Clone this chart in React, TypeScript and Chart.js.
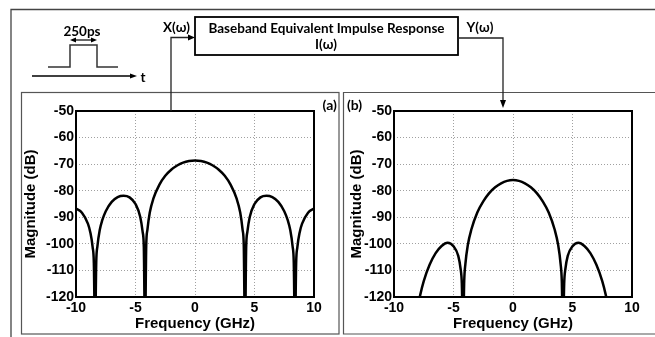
import React, { useEffect, useRef } from 'react';
import { Chart, registerables } from 'chart.js';

Chart.register(...registerables);

// Panel (a): input pulse spectrum X(ω)
const freqA = [-10, -9.5, -9, -8.8, -8.6, -8.5, -8.4, -8.3, -8.2, -8, -7.8, -7.5, -7, -6.5, -6, -5.5, -5, -4.6, -4.4, -4.3, -4.2, -4.1, -4, -3.8, -3.5, -3, -2.5, -2, -1.5, -1, -0.5, 0,
  0.5, 1, 1.5, 2, 2.5, 3, 3.5, 3.8, 4, 4.1, 4.2, 4.3, 4.4, 4.6, 5, 5.5, 6, 6.5, 7, 7.5, 7.8, 8, 8.2, 8.3, 8.4, 8.5, 8.6, 8.8, 9, 9.5, 10];
const magA = [-86.7, -88.3, -92.4, -95.6, -101.3, -107.2, -135, -107, -100.9, -94.7, -91.2, -87.7, -84.2, -82.4, -81.9, -82.5, -85.0, -89.9, -95.5, -101.3, -135, -100.9, -94.7, -88.2, -83.0, -77.8, -74.4, -72.1, -70.5, -69.4, -68.8, -68.6,
  -68.8, -69.4, -70.5, -72.1, -74.4, -77.8, -83.0, -88.2, -94.7, -100.9, -135, -101.3, -95.5, -89.9, -85.0, -82.5, -81.9, -82.4, -84.2, -87.7, -91.2, -94.7, -100.9, -107, -135, -107.2, -101.3, -95.6, -92.4, -88.3, -86.7];

// Panel (b): output spectrum Y(ω)
const freqB = [-8.5, -8, -7.8, -7.5, -7, -6.5, -6, -5.5, -5, -4.6, -4.4, -4.3, -4.2, -4.1, -4, -3.8, -3.5, -3, -2.5, -2, -1.5, -1, -0.5, 0,
  0.5, 1, 1.5, 2, 2.5, 3, 3.5, 3.8, 4, 4.1, 4.2, 4.3, 4.4, 4.6, 5, 5.5, 6, 6.5, 7, 7.5, 7.8, 8, 8.5];
const magB = [-131, -124, -119.3, -114, -107.8, -103.5, -100.8, -99.6, -100.9, -104.5, -109.5, -115, -135, -114, -107.5, -100.5, -94.6, -88.2, -84.0, -80.9, -78.7, -77.2, -76.3, -76,
  -76.3, -77.2, -78.7, -80.9, -84.0, -88.2, -94.6, -100.5, -107.5, -114, -135, -115, -109.5, -104.5, -100.9, -99.6, -100.8, -103.5, -107.8, -114, -119.3, -124, -131];

const xTickValues = [-10, -5, 0, 5, 10];
const yTickValues = [-50, -60, -70, -80, -90, -100, -110, -120];
const xTitleText = 'Frequency (GHz)';
const yTitleText = 'Magnitude (dB)';

const FONT = "'Liberation Sans', Arial, Helvetica, sans-serif";
const LABEL_FONT = "Lato, 'Open Sans', sans-serif";

const framePlugin = {
  id: 'plotFrame',
  afterDraw(chart: any) {
    const { ctx, chartArea } = chart;
    const { left, top, right, bottom } = chartArea;
    ctx.save();
    ctx.strokeStyle = '#000';
    ctx.lineWidth = 2;
    ctx.strokeRect(left, top, right - left, bottom - top);
    ctx.restore();
  },
};

function makeConfig(freq: number[], mag: number[], rightPad: number, yTitlePad: number): any {
  return {
    type: 'line',
    data: {
      datasets: [
        {
          data: freq.map((f, i) => ({ x: f, y: mag[i] })),
          borderColor: '#000',
          borderWidth: 2.5,
          pointRadius: 0,
          fill: false,
          cubicInterpolationMode: 'monotone',
        },
      ],
    },
    plugins: [framePlugin],
    options: {
      responsive: false,
      animation: false,
      devicePixelRatio: 1,
      layout: { padding: { top: 19, right: rightPad, left: 0, bottom: 0 } },
      plugins: { legend: { display: false }, tooltip: { enabled: false } },
      scales: {
        x: {
          type: 'linear',
          min: -10,
          max: 10,
          afterBuildTicks: (s: any) => {
            s.ticks = xTickValues.map((v) => ({ value: v }));
          },
          afterFit: (s: any) => {
            s.height = 37;
          },
          grid: { color: '#a0a0a0', lineWidth: 1, drawTicks: false },
          border: { display: false, dash: [1, 2] },
          ticks: { color: '#000', padding: 3, font: { family: FONT, size: 14, weight: 'bold' }, maxRotation: 0 },
          title: {
            display: true,
            text: xTitleText,
            color: '#000',
            font: { family: FONT, size: 15, weight: 'bold' },
            padding: { top: 0, bottom: 1 },
          },
        },
        y: {
          type: 'linear',
          min: -120,
          max: -50,
          afterBuildTicks: (s: any) => {
            s.ticks = yTickValues.map((v) => ({ value: v }));
          },
          afterFit: (s: any) => {
            s.width = 54;
          },
          grid: { color: '#a0a0a0', lineWidth: 1, drawTicks: false },
          border: { display: false, dash: [1, 2] },
          ticks: { color: '#000', padding: 2, font: { family: FONT, size: 14, weight: 'bold' } },
          title: {
            display: true,
            text: yTitleText,
            color: '#000',
            font: { family: FONT, size: 15, weight: 'bold' },
            padding: { top: yTitlePad, bottom: 0 },
          },
        },
      },
    },
  };
}

function SpectrumChart(props: { left: number; top: number; width: number; height: number; freq: number[]; mag: number[]; rightPad: number; yTitlePad: number }) {
  const ref = useRef<HTMLCanvasElement | null>(null);
  useEffect(() => {
    if (!ref.current) return;
    const chart = new Chart(ref.current, makeConfig(props.freq, props.mag, props.rightPad, props.yTitlePad));
    return () => chart.destroy();
  }, []);
  return (
    <canvas
      ref={ref}
      width={props.width}
      height={props.height}
      style={{ position: 'absolute', left: props.left, top: props.top, width: props.width, height: props.height }}
    />
  );
}

export default function App() {
  const txt = { fontFamily: LABEL_FONT, fontWeight: 700, fontSize: 13.5, fill: '#000' } as any;
  const lbl = { fontFamily: LABEL_FONT, fontWeight: 700, fontSize: 14, fill: '#000' } as any;
  return (
    <div style={{ position: 'absolute', left: 0, top: 0, width: 655, height: 337, background: '#fff', overflow: 'hidden' }}>
      <SpectrumChart left={22} top={92} width={317} height={242} freq={freqA} mag={magA} rightPad={25} yTitlePad={0} />
      <SpectrumChart left={340} top={92} width={315} height={242} freq={freqB} mag={magB} rightPad={23} yTitlePad={8} />
      <svg width={655} height={337} style={{ position: 'absolute', left: 0, top: 0, pointerEvents: 'none' }}>
        {/* outer frame */}
        <path d="M11 337 V9.5 H655" stroke="#444" strokeWidth={1.3} fill="none" />
        {/* panel borders */}
        <rect x={21.5} y={92.5} width={317.5} height={241.5} stroke="#555" strokeWidth={1.2} fill="none" />
        <path d="M655 92.5 H343.5 V334 H655" stroke="#555" strokeWidth={1.2} fill="none" />
        {/* block diagram */}
        <rect x={195} y={17} width={263} height={38} stroke="#000" strokeWidth={1.8} fill="none" />
        <text x={326.5} y={27.5} textAnchor="middle" dominantBaseline="central" {...txt}>Baseband Equivalent Impulse Response</text>
        <text x={326} y={43.5} textAnchor="middle" dominantBaseline="central" {...txt}>I(ω)</text>
        <text x={176.5} y={27} textAnchor="middle" dominantBaseline="central" {...txt}>X(ω)</text>
        <text x={480} y={27} textAnchor="middle" dominantBaseline="central" {...txt}>Y(ω)</text>
        <path d="M171 111 V37.5 H189" stroke="#222" strokeWidth={1.3} fill="none" />
        <polygon points="195,37.5 188,34.5 188,40.5" fill="#000" />
        <path d="M458 38 H503 V101" stroke="#222" strokeWidth={1.3} fill="none" />
        <polygon points="503,108 500,100 506,100" fill="#000" />
        {/* pulse */}
        <text x={82} y={30.5} textAnchor="middle" dominantBaseline="central" {...txt}>250ps</text>
        <path d="M75 40 H92" stroke="#000" strokeWidth={1.2} fill="none" />
        <polygon points="70,40 76,37.5 76,42.5" fill="#000" />
        <polygon points="97,40 91,37.5 91,42.5" fill="#000" />
        <path d="M48 67 H70 V45 H97 V67 H118" stroke="#333" strokeWidth={1.5} fill="none" />
        <path d="M32 76 H131" stroke="#000" strokeWidth={1.3} fill="none" />
        <polygon points="137,76 130,73.5 130,78.5" fill="#000" />
        <text x={143} y={76.5} textAnchor="middle" dominantBaseline="central" {...txt}>t</text>
        {/* panel labels */}
        <text x={329.7} y={104} textAnchor="middle" dominantBaseline="central" {...lbl}>(a)</text>
        <text x={354.5} y={104} textAnchor="middle" dominantBaseline="central" {...lbl}>(b)</text>
      </svg>
    </div>
  );
}
